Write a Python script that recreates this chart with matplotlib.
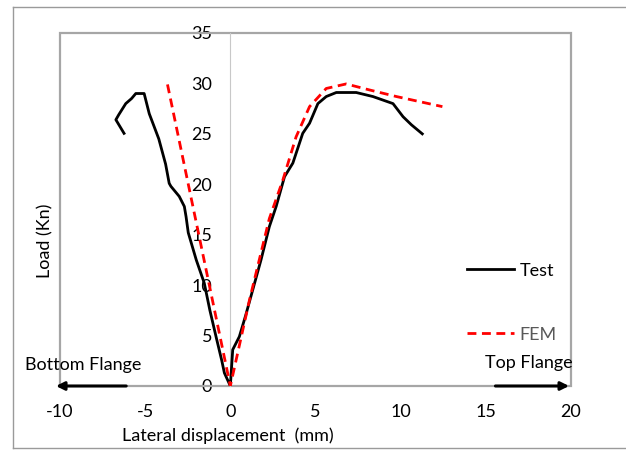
import matplotlib
matplotlib.use("Agg")
import matplotlib.pyplot as plt
from matplotlib.lines import Line2D
from matplotlib.patches import Rectangle

plt.rcParams["font.family"] = ["Lato", "DejaVu Sans"]
plt.rcParams["axes.unicode_minus"] = False

# Test curve (black), traced from hook end on the left, through origin, to right end
test_x = [-6.24, -6.72, -6.55, -6.14, -5.8, -5.55, -5.06, -4.76, -4.2, -3.8, -3.59,
          -3.49, -3.0, -2.7, -2.6, -2.47, -2.0, -1.53, -1.2, -0.84, -0.5, -0.35, 0.0,
          0.14, 0.53, 0.9, 1.31, 1.8, 2.29, 2.69, 3.18, 3.67, 4.25, 4.65, 5.14, 5.63,
          6.22, 7.39, 8.37, 9.55, 10.14, 10.63, 11.27]
test_y = [25.05, 26.4, 26.9, 28.0, 28.5, 29.0, 29.0, 27.0, 24.5, 22.0, 20.1,
          19.8, 18.8, 17.8, 16.8, 15.2, 12.5, 10.2, 7.5, 4.9, 2.5, 1.3, 0.0,
          3.6, 4.9, 7.0, 9.5, 12.5, 15.8, 17.8, 20.75, 22.1, 25.05, 26.05, 28.0, 28.7,
          29.1, 29.1, 28.7, 28.0, 26.7, 25.9, 25.0]

# FEM curve (red dashed)
fem_x = [-3.69, 0.0, 1.12, 2.29, 3.08, 3.86, 4.65, 5.63, 6.8, 8.18, 9.75, 12.45]
fem_y = [29.9, 0.0, 8.5, 16.6, 20.4, 24.7, 27.7, 29.5, 29.95, 29.35, 28.7, 27.7]

x_ticks = [-10, -5, 0, 5, 10, 15, 20]
y_ticks = [0, 5, 10, 15, 20, 25, 30, 35]

fig = plt.figure(figsize=(6.26, 4.5), dpi=100)
ax = fig.add_axes([60 / 626, 64 / 450, 511 / 626, 353 / 450])

ax.plot(test_x, test_y, color="black", lw=2.0, label="Test", zorder=3)
ax.plot(fem_x, fem_y, color="#ff0000", lw=2.0, ls=(0, (3.2, 2.0)), label="FEM", zorder=4)

ax.set_xlim(-10, 20)
ax.set_ylim(0, 35)
ax.set_xticks(x_ticks)
ax.set_yticks(y_ticks)

# y axis sits at x = 0, frame drawn as a box
ax.spines["left"].set_position(("data", 0))
ax.spines["left"].set_color("#c8c8c8")
ax.spines["left"].set_linewidth(0.8)
for s in ["top", "right", "bottom"]:
    ax.spines[s].set_visible(False)
ax.add_patch(Rectangle((0, 0), 1, 1, transform=ax.transAxes, fill=False,
                       ec="#a6a6a6", lw=1.6, clip_on=False, zorder=2))
ax.tick_params(axis="both", length=0, labelsize=13, colors="#000000")
ax.tick_params(axis="x", pad=13)
ax.tick_params(axis="y", pad=13)

leg = ax.legend(loc="upper left", bbox_to_anchor=(0.765, 0.395), frameon=False,
                fontsize=13, handlelength=2.6, handletextpad=0.3, labelspacing=2.65)
leg.get_texts()[1].set_color("#595959")

# flange direction arrows
ax.annotate("", xy=(-10.4, 0), xytext=(-5.95, 0), annotation_clip=False,
            arrowprops=dict(arrowstyle="-|>", color="black", lw=2.2, mutation_scale=12))
ax.annotate("", xy=(20.05, 0), xytext=(15.4, 0), annotation_clip=False,
            arrowprops=dict(arrowstyle="-|>", color="black", lw=2.2, mutation_scale=12))
fig.text(25 / 626, 1 - 365 / 450, "Bottom Flange", fontsize=13, va="center", ha="left")
fig.text(573 / 626, 1 - 363 / 450, "Top Flange", fontsize=13, va="center", ha="right")

fig.text(228 / 626, 1 - 436 / 450, "Lateral displacement  (mm)", fontsize=13,
         ha="center", va="center")
fig.text(45 / 626, 1 - 241 / 450, "Load (Kn)", fontsize=13, rotation=90,
         ha="center", va="center")

# outer chart border
for xs, ys in [([13, 13], [7, 448]), ([13, 626], [7, 7]), ([13, 626], [448, 448])]:
    fig.add_artist(Line2D([x / 626 for x in xs], [1 - y / 450 for y in ys],
                          color="#9a9a9a", lw=1.0))

fig.savefig("out.png", dpi=100)
